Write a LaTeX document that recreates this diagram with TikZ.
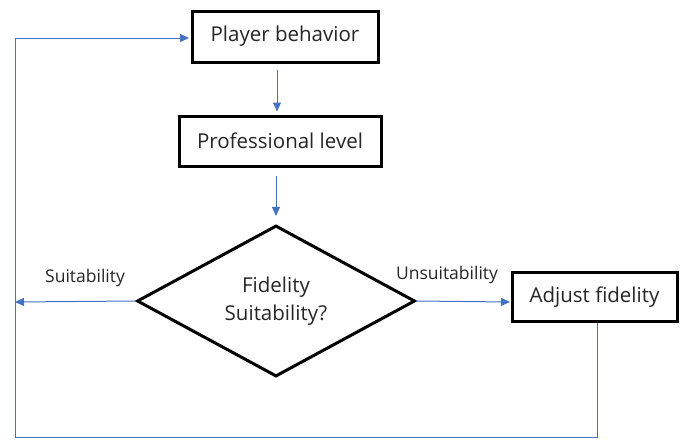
\documentclass[tikz,border=0pt]{standalone}
\usepackage{fontspec}
\setmainfont{Open Sans}
\usetikzlibrary{arrows.meta,shapes.geometric}
\definecolor{linkblue}{HTML}{4472C4}
\begin{document}
\begin{tikzpicture}[x=1pt,y=-1pt,
  box/.style={draw=black,line width=3pt,fill=white,inner sep=0pt,text=black!85,font=\fontsize{20.5}{24}\selectfont},
  dia/.style={draw=black,line width=3pt,diamond,inner sep=0pt,minimum width=278pt,minimum height=150pt,align=center,text=black!85,font=\fontsize{20.5}{28}\selectfont},
  link/.style={draw=linkblue,line width=1pt},
  arr/.style={link,-{Triangle[length=9pt,width=8pt]}},
  lab/.style={font=\fontsize{17.5}{20}\selectfont,text=black!85}]
\useasboundingbox (0,0) rectangle (685,439);
\node[box,minimum width=186pt,minimum height=51pt] (pb) at (285,36.5) {Player behavior};
\node[box,minimum width=202pt,minimum height=50pt] (pl) at (280,141) {Professional level};
\node[dia] (d) at (276,301) {Fidelity\\Suitability?};
\node[box,minimum width=165pt,minimum height=49pt] (af) at (594.5,297) {Adjust fidelity};
\coordinate (sl) at (15,302);
\coordinate (br) at (597,437);
\coordinate (bl) at (15,437);
\coordinate (tl) at (15,38);
\coordinate (afin) at (510,302);
\coordinate (pbin) at (189,38);
\draw[arr,shorten <=6pt,shorten >=3pt] (pb.south -| 277,0) -- (pl.north -| 277,0);
\draw[arr,shorten <=8pt,shorten >=8pt] (pl.south -| 276,0) -- (d.north);
\draw[arr] (d.west) -- (sl);
\draw[arr] (d.east) -- (afin);
\draw[arr] (af.south -| br) -- (br) -- (bl) -- (tl) -- (pbin);
\node[lab] (ls) at (85,278) {Suitability};
\node[lab] (lu) at (447,275) {Unsuitability};
\end{tikzpicture}
\end{document}
